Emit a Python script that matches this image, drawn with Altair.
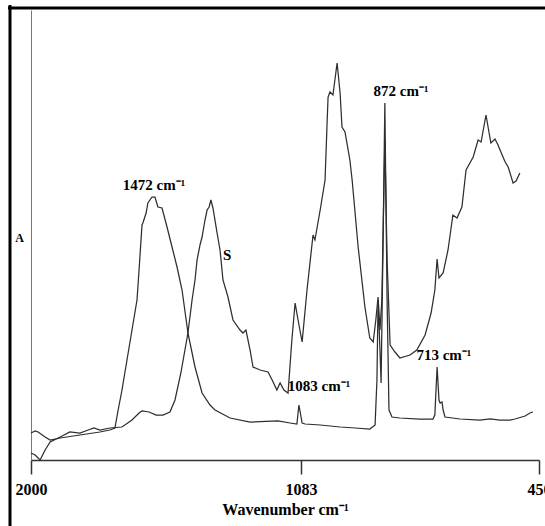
import altair as alt
import pandas as pd

# ---- data (wavenumber cm-1, absorbance a.u.) ----
c1_wn = [2000, 1986, 1976, 1952, 1935, 1901, 1834, 1766, 1732, 1715, 1704, 1691, 1674, 1657, 1640,
         1633, 1623, 1620, 1609, 1603, 1589, 1579, 1569, 1555, 1538, 1521, 1504, 1487, 1467, 1443,
         1419, 1392, 1375, 1324, 1256, 1161, 1120, 1097, 1090, 1080, 1072, 1032, 979, 939, 900,
         886, 881, 878, 873, 870, 865, 860, 854, 849, 841, 820, 767, 732, 727, 721,
         716, 713, 708, 705, 700, 660, 607, 580, 554, 527, 514, 487, 474, 466]
c1_abs = [0.27, 0.29, 0.28, 0.23, 0.20, 0.22, 0.25, 0.28, 0.30, 0.32, 0.50, 0.70, 1.00, 1.30, 1.60,
          1.90, 2.35, 2.37, 2.47, 2.57, 2.63, 2.63, 2.53, 2.52, 2.33, 2.13, 1.93, 1.70, 1.27, 0.93,
          0.67, 0.55, 0.50, 0.42, 0.38, 0.39, 0.37, 0.36, 0.55, 0.37, 0.36, 0.35, 0.33, 0.32, 0.31,
          0.35, 0.80, 1.60, 1.10, 0.77, 2.10, 3.57, 1.60, 0.50, 0.43, 0.42, 0.41, 0.41, 0.45, 0.93,
          0.60, 0.57, 0.58, 0.50, 0.43, 0.41, 0.40, 0.41, 0.40, 0.40, 0.41, 0.44, 0.47, 0.48]

c2_wn = [2000, 1986, 1969, 1952, 1935, 1901, 1868, 1834, 1806, 1786, 1766, 1732, 1691, 1657, 1633,
         1623, 1599, 1575, 1552, 1528, 1511, 1491, 1467, 1453, 1443, 1436, 1426, 1419, 1409, 1402,
         1395, 1389, 1382, 1368, 1358, 1348, 1331, 1314, 1290, 1280, 1270, 1256, 1246, 1222, 1195,
         1181, 1165, 1154, 1141, 1127, 1114, 1103, 1093, 1080, 1067, 1051, 1046, 1032, 1019, 1014,
         1011, 1006, 998, 987, 979, 974, 966, 953, 947, 931, 913, 900, 891, 884, 878,
         873, 868, 860, 854, 846, 833, 820, 793, 775, 753, 737, 727, 721, 716, 705,
         692, 679, 668, 655, 644, 625, 612, 604, 591, 578, 567, 559, 548, 540, 532,
         519, 511, 501]
c2_abs = [0.07, 0.05, 0.00, 0.10, 0.18, 0.23, 0.28, 0.27, 0.30, 0.32, 0.30, 0.32, 0.33, 0.40, 0.47,
          0.49, 0.48, 0.45, 0.45, 0.48, 0.60, 0.87, 1.27, 1.60, 1.80, 2.00, 2.15, 2.23, 2.40, 2.50,
          2.53, 2.60, 2.52, 2.27, 2.10, 1.80, 1.63, 1.40, 1.30, 1.27, 1.30, 1.10, 0.93, 0.90, 0.88,
          0.80, 0.70, 0.77, 0.70, 0.67, 1.20, 1.57, 1.40, 1.18, 1.70, 2.25, 2.20, 2.50, 2.80, 3.33,
          3.63, 3.68, 3.65, 3.97, 3.67, 3.33, 3.28, 3.00, 2.80, 2.13, 1.53, 1.22, 1.18, 1.40, 1.63,
          1.30, 1.60, 3.20, 2.00, 1.15, 1.08, 1.02, 1.05, 1.10, 1.25, 1.47, 1.70, 2.01, 1.82, 1.87,
          2.10, 2.45, 2.42, 2.53, 2.90, 3.03, 3.20, 3.18, 3.45, 3.17, 3.21, 3.15, 3.05, 2.98, 2.93,
          2.77, 2.79, 2.87]

tick_values = [2000, 1083, 450]

ann_text = ["1472 cm\u207b\u00b9", "S", "872 cm\u207b\u00b9", "713 cm\u207b\u00b9", "1083 cm\u207b\u00b9"]
ann_wn = [1582, 1334, 817, 703, 1035]
ann_abs = [2.75, 2.05, 3.69, 1.05, 0.74]

# ---- tables ----
df1 = pd.DataFrame({"wn": c1_wn, "abs": c1_abs, "series": "1", "idx": range(len(c1_wn))})
df2 = pd.DataFrame({"wn": c2_wn, "abs": c2_abs, "series": "2", "idx": range(len(c2_wn))})
spectra = pd.concat([df1, df2], ignore_index=True)
ann = pd.DataFrame({"wn": ann_wn, "abs": ann_abs, "label": ann_text})

FONT = "Liberation Serif"
LINE = "#2e2e2e"

x_scale = alt.Scale(domain=[2000, 1083, 450], range=[0, 270, 508], nice=False, zero=False)
y_scale = alt.Scale(domain=[0, 4.5], nice=False, zero=False)

x_axis = alt.Axis(
    values=tick_values, format="d", grid=False,
    domainColor="#333333", domainWidth=1.5,
    tickColor="#333333", tickWidth=1.5, tickSize=14,
    labelFont=FONT, labelFontSize=16, labelFontWeight="bold", labelColor="black",
    labelPadding=7, labelFlush=False, labelOverlap=False,
    title="Wavenumber cm\u207b\u00b9", titleFont=FONT, titleFontSize=16,
    titleFontWeight="bold", titleColor="black", titlePadding=4,
)
y_axis = alt.Axis(
    ticks=False, labels=False, grid=False,
    domainColor="#777777", domainWidth=1,
    title="A", titleAngle=0, titleX=-12, titleY=227, titleAlign="center",
    titleBaseline="middle", titleFont=FONT, titleFontSize=12,
    titleFontWeight="bold", titleColor="black",
)

lines = alt.Chart(spectra).mark_line(strokeWidth=1.25, color=LINE).encode(
    x=alt.X("wn:Q", scale=x_scale, axis=x_axis),
    y=alt.Y("abs:Q", scale=y_scale, axis=y_axis),
    detail="series:N",
    order="idx:Q",
)

labels = alt.Chart(ann).mark_text(
    font=FONT, fontSize=15, fontWeight="bold", color="black", align="center", baseline="middle"
).encode(
    x=alt.X("wn:Q", scale=x_scale),
    y=alt.Y("abs:Q", scale=y_scale),
    text="label:N",
)

frame_data = alt.Data(values=[{}])
frame_left = alt.Chart(frame_data).mark_rule(color="black", strokeWidth=3).encode(
    x=alt.value(-21), y=alt.value(-5), y2=alt.value(516)
)
frame_top = alt.Chart(frame_data).mark_rule(color="black", strokeWidth=3).encode(
    x=alt.value(-23), x2=alt.value(514), y=alt.value(-2)
)

chart = alt.layer(lines, labels, frame_left, frame_top).properties(
    width=508, height=450,
    autosize=alt.AutoSizeParams(type="none"),
    padding={"left": 31, "top": 10, "right": 6, "bottom": 66},
    background="white",
).configure_view(stroke=None)

chart.save("out.html", embed_options={"renderer": "svg", "actions": False})
